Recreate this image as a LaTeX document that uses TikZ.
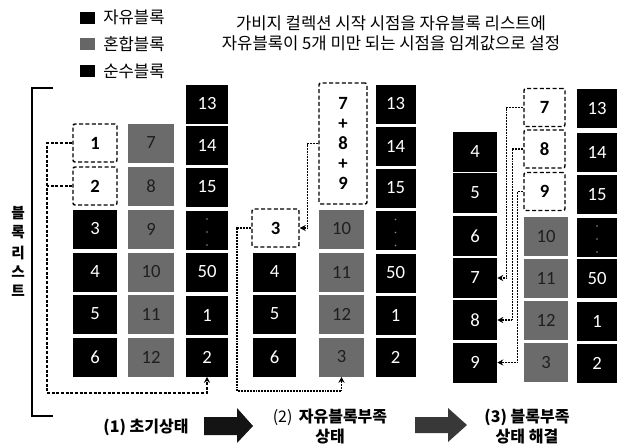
\documentclass[tikz,border=0pt]{standalone}
\usepackage{fontspec}
\setmainfont{Noto Sans CJK KR}
\newfontfamily\numfont{Carlito}
\usetikzlibrary{arrows.meta}
\begin{document}
\begin{tikzpicture}[x=0.75pt,y=-0.75pt,
  blk/.style={rectangle, fill=black, text=white, inner sep=0pt, minimum height=29.25pt, minimum width=33pt, font=\numfont\fontsize{14}{14}\selectfont},
  gblk/.style={blk, fill=black!58, text=black!88},
  dblk/.style={rectangle, draw=black, line width=1.1pt, dash pattern=on 3pt off 1.8pt, rounded corners=1.5pt, fill=white, text=black, inner sep=0pt, minimum height=28.5pt, minimum width=33pt, font=\numfont\bfseries\fontsize{14}{15}\selectfont, align=center},
  dline/.style={line width=0.8pt, dash pattern=on 2.2pt off 1.3pt},
  tline/.style={line width=0.85pt, dash pattern=on 0.7pt off 0.45pt},
  arr/.style={-{Stealth[length=4.5pt,width=4.5pt]}},
  lgbox/.style={rectangle, inner sep=0pt, minimum width=11pt, minimum height=9pt},
  lgtext/.style={anchor=west, inner sep=0pt, font=\fontsize{12.5}{12.5}\selectfont},
  ttl/.style={align=center, inner sep=0pt, font=\fontsize{12.5}{15}\selectfont},
  captext/.style={align=center, inner sep=0pt, font=\bfseries\fontsize{12}{15}\selectfont},
  dotmark/.style={fill=black!45}
]
\useasboundingbox (0,0) rectangle (625,443);

% legend
\node[lgbox, fill=black] (lg1) at (87.5,17.5) {};
\node[lgbox, fill=black!60] (lg2) at (87.5,44) {};
\node[lgbox, fill=black] (lg3) at (87.5,71) {};
\node[lgtext] (lt1) at (103,17.5) {자유블록};
\node[lgtext] (lt2) at (103,44) {혼합블록};
\node[lgtext] (lt3) at (103,71) {순수블록};

% title
\node[ttl] (title) at (391,33) {가비지 컬렉션 시작 시점을 자유블록 리스트에\\자유블록이 5개 미만 되는 시점을 임계값으로 설정};

% bracket and vertical label
\draw[line width=1pt] (53,88) -- (32,88) -- (32,416) -- (53,416);
\node[align=center, inner sep=0pt, font=\bfseries\fontsize{11}{14.4}\selectfont] (vlab) at (18,251.5) {블\\록\\[1.5pt]리\\스\\트};

% ---------- panel 1 ----------
\node[dblk] (d1) at (95,143) {1};
\node[dblk] (d2) at (95,186) {2};
\node[blk] (a3) at (95,229) {3};
\node[blk] (a4) at (95,272) {4};
\node[blk] (a5) at (95,314) {5};
\node[blk] (a6) at (95,357) {6};
\node[gblk, minimum width=34.5pt] (g7) at (151,143) {7};
\node[gblk, minimum width=34.5pt] (g8) at (151,186) {8};
\node[gblk, minimum width=34.5pt] (g9) at (151,229) {9};
\node[gblk, minimum width=34.5pt] (g10) at (151,272) {10};
\node[gblk, minimum width=34.5pt] (g11) at (151,314) {11};
\node[gblk, minimum width=34.5pt] (g12) at (151,357) {12};
\node[blk, minimum width=31.5pt] (c13) at (207,104) {13};
\node[blk, minimum width=31.5pt] (c14) at (207,145) {14};
\node[blk, minimum width=31.5pt] (c15) at (207,187) {15};
\node[blk, minimum width=31.5pt] (cdots) at (207,230) {};
\node[blk, minimum width=31.5pt] (c50) at (207,272) {50};
\node[blk, minimum width=31.5pt] (c1) at (207,315) {1};
\node[blk, minimum width=31.5pt] (c2) at (207,357) {2};
\foreach \dy in {-11,2,15} \fill[dotmark] (cdots.center) ++(0,\dy) circle[radius=0.7pt];

\coordinate (p1b) at (47,393);
\draw[dline, arr] (d1.west) -| (p1b) -| (c2.south);
\draw[dline] (d2.west) -- (d2.west -| p1b);

% ---------- panel 2 ----------
\node[dblk, minimum width=35.25pt] (e3) at (275.5,228) {3};
\node[blk, minimum width=32.25pt] (e4) at (274.5,272) {4};
\node[blk, minimum width=32.25pt] (e5) at (274.5,314) {5};
\node[blk, minimum width=32.25pt] (e6) at (274.5,357) {6};
\node[dblk, minimum width=36pt, minimum height=90.75pt] (big) at (343,143.5) {7\\+\\8\\+\\9};
\node[gblk, minimum width=33.75pt] (f10) at (341.5,229) {10};
\node[gblk, minimum width=33.75pt] (f11) at (341.5,272) {11};
\node[gblk, minimum width=33.75pt] (f12) at (341.5,314) {12};
\node[gblk, minimum width=33.75pt] (f3) at (341.5,357) {3};
\node[blk, minimum width=30pt] (h13) at (395.5,104) {13};
\node[blk, minimum width=30pt] (h14) at (395.5,146) {14};
\node[blk, minimum width=30pt] (h15) at (395.5,188) {15};
\node[blk, minimum width=30pt] (hdots) at (395.5,230.5) {};
\node[blk, minimum width=30pt] (h50) at (395.5,273) {50};
\node[blk, minimum width=30pt] (h1) at (395.5,315) {1};
\node[blk, minimum width=30pt] (h2) at (395.5,357) {2};
\foreach \dy in {-11,2,15} \fill[dotmark] (hdots.center) ++(0,\dy) circle[radius=0.7pt];

\draw[tline, arr] (big.west) -- ++(-11,0) |- (e3.east);
\coordinate (p2b) at (237,391);
\draw[tline, arr] (e3.west) -| (p2b) -| (f3.south);

% ---------- panel 3 ----------
\node[blk, minimum height=30pt] (k4) at (475,152) {4};
\node[blk, minimum height=30pt] (k5) at (475,193) {5};
\node[blk, minimum height=30pt] (k6) at (475,236) {6};
\node[blk, minimum height=30pt] (k7) at (475,278) {7};
\node[blk, minimum height=30pt] (k8) at (475,320) {8};
\node[blk, minimum height=30pt] (k9) at (475,362.5) {9};
\node[dblk, minimum width=30.75pt] (m7) at (544.5,107.5) {7};
\node[dblk, minimum width=30.75pt] (m8) at (544.5,149) {8};
\node[dblk, minimum width=30.75pt] (m9) at (544.5,191.5) {9};
\node[gblk] (n10) at (546,236.5) {10};
\node[gblk] (n11) at (546,278) {11};
\node[gblk] (n12) at (546,320) {12};
\node[gblk] (n3) at (546,362.5) {3};
\node[blk, minimum width=30pt] (q13) at (597,108.5) {13};
\node[blk, minimum width=30pt] (q14) at (597,152.5) {14};
\node[blk, minimum width=30pt] (q15) at (597,194.5) {15};
\node[blk, minimum width=30pt] (qdots) at (597,237) {};
\node[blk, minimum width=30pt] (q50) at (597,278.5) {50};
\node[blk, minimum width=30pt] (q1) at (597,321.5) {1};
\node[blk, minimum width=30pt] (q2) at (597,363.5) {2};
\foreach \dy in {-11,2,15} \fill[dotmark] (qdots.center) ++(0,\dy) circle[radius=0.7pt];

\draw[tline, arr] (m7.west) -- ++(-17,0) |- (k7.east);
\draw[tline, arr] (m8.west) -- ++(-11,0) |- (k8.east);
\draw[tline, arr] (m9.west) -- ++(-6,0) |- (k9.east);

% ---------- bottom captions and arrows ----------
\node[captext] (cap1) at (146,427) {(1) 초기상태};
\node[captext] (cap2) at (330,427) {{\mdseries (2)}\, 자유블록부족\\상태};
\node[captext] (cap3) at (527,427) {(3) 블록부족\\상태 해결};
\fill[black!92] (204,417) -- (237,417) -- (237,408) -- (253,426) -- (237,443) -- (237,435) -- (204,435) -- cycle;
\fill[black!78] (415,417) -- (448,417) -- (448,408) -- (467,425) -- (448,442) -- (448,433) -- (415,433) -- cycle;
\end{tikzpicture}
\end{document}
